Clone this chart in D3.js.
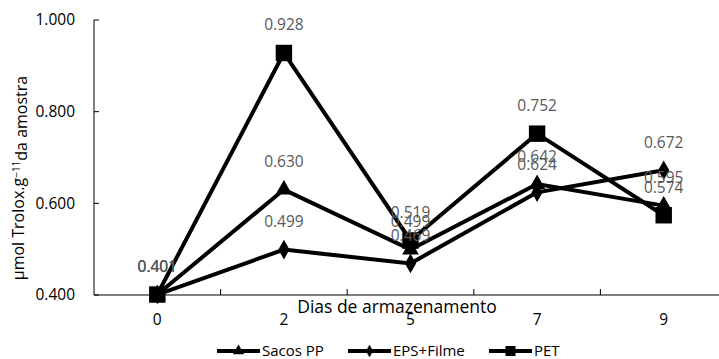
<!DOCTYPE html>
<html lang="en">
<head>
    <meta charset="UTF-8">
    <title>Trolox chart</title>
    <script src="https://d3js.org/d3.v7.min.js"></script>
    <style>
        body { margin: 0; background: #fff; }
        text { font-family: "Open Sans", sans-serif; }
        .tick-label { font-size: 15.5px; fill: #000; }
        .data-label { font-size: 15.5px; fill: #595959; }
        .legend-label { font-size: 15px; fill: #000; }
    </style>
</head>
<body>
    <div id="chart"></div>
    <script>
        // Data
        const days = ["0", "2", "5", "7", "9"];
        const sacosPP = [0.401, 0.630, 0.499, 0.642, 0.595];
        const epsFilme = [0.401, 0.499, 0.469, 0.624, 0.672];
        const pet = [0.401, 0.928, 0.519, 0.752, 0.574];
        const yTicks = [0.400, 0.600, 0.800, 1.000];

        const series = [
            { name: "Sacos PP", values: sacosPP, symbol: d3.symbolTriangle, size: 120, legendSize: 55 },
            { name: "EPS+Filme", values: epsFilme, symbol: d3.symbolDiamond, size: 110, legendSize: 45 },
            { name: "PET", values: pet, symbol: d3.symbolSquare, size: 270, legendSize: 100 }
        ];

        // Dimensions
        const width = 719;
        const height = 359;
        const plotLeft = 94, plotRight = 727, plotTop = 20, plotBottom = 295;

        const svg = d3.select("#chart")
            .append("svg")
            .attr("width", width)
            .attr("height", height);

        const x = d3.scaleBand().domain(days).range([plotLeft, plotRight]).padding(0);
        const y = d3.scaleLinear().domain([0.4, 1.0]).range([plotBottom, plotTop]);
        const cx = d => x(d) + x.bandwidth() / 2;

        // Y axis
        svg.append("line")
            .attr("x1", plotLeft).attr("x2", plotLeft)
            .attr("y1", plotTop).attr("y2", plotBottom)
            .attr("stroke", "#000").attr("stroke-width", 1);

        svg.selectAll(".ytick")
            .data(yTicks)
            .join("line")
            .attr("x1", plotLeft).attr("x2", plotLeft + 5)
            .attr("y1", d => y(d)).attr("y2", d => y(d))
            .attr("stroke", "#000");

        svg.selectAll(".ylabel")
            .data(yTicks)
            .join("text")
            .attr("class", "tick-label")
            .attr("x", plotLeft - 19)
            .attr("y", d => y(d))
            .attr("dy", "0.35em")
            .attr("text-anchor", "end")
            .text(d => d3.format(".3f")(d));

        // X axis
        svg.append("line")
            .attr("x1", plotLeft).attr("x2", plotRight)
            .attr("y1", plotBottom).attr("y2", plotBottom)
            .attr("stroke", "#000").attr("stroke-width", 1);

        svg.selectAll(".xtick")
            .data(days.slice(1))
            .join("line")
            .attr("x1", d => x(d)).attr("x2", d => x(d))
            .attr("y1", plotBottom).attr("y2", plotBottom - 6)
            .attr("stroke", "#000");

        svg.selectAll(".xlabel")
            .data(days)
            .join("text")
            .attr("class", "tick-label")
            .attr("x", d => cx(d))
            .attr("y", plotBottom + 25)
            .attr("dy", "0.35em")
            .attr("text-anchor", "middle")
            .text(d => d);

        // Axis titles
        svg.append("text")
            .attr("x", 397)
            .attr("y", 313)
            .attr("text-anchor", "middle")
            .style("font-size", "17.5px")
            .text("Dias de armazenamento");

        const yTitle = svg.append("text")
            .attr("transform", "translate(24, 178) rotate(-90)")
            .attr("text-anchor", "middle")
            .style("font-size", "16px");
        yTitle.append("tspan").text("µmol Trolox.g");
        yTitle.append("tspan").attr("dy", "-0.45em").style("font-size", "10px").text("−11");
        yTitle.append("tspan").attr("dy", "0.45em").text("da amostra");

        // Lines and markers
        const line = d3.line()
            .x((d, i) => cx(days[i]))
            .y(d => y(d));

        series.forEach(s => {
            svg.append("path")
                .datum(s.values)
                .attr("d", line)
                .attr("fill", "none")
                .attr("stroke", "#000")
                .attr("stroke-width", 4)
                .attr("stroke-linejoin", "miter");

            svg.selectAll(null)
                .data(s.values)
                .join("path")
                .attr("d", d3.symbol().type(s.symbol).size(s.size))
                .attr("transform", (d, i) => `translate(${cx(days[i])}, ${y(d)})`)
                .attr("fill", "#000");
        });

        // Data labels
        series.forEach(s => {
            svg.selectAll(null)
                .data(s.values)
                .join("text")
                .attr("class", "data-label")
                .attr("x", (d, i) => cx(days[i]))
                .attr("y", d => y(d) - 28)
                .attr("dy", "0.35em")
                .attr("text-anchor", "middle")
                .text(d => d3.format(".3f")(d));
        });

        // Legend
        const legendX = [217, 348, 489];
        const legend = svg.selectAll(".legend")
            .data(series)
            .join("g")
            .attr("class", "legend")
            .attr("transform", (d, i) => `translate(${legendX[i]}, 351)`);

        legend.append("line")
            .attr("x1", 0).attr("x2", 43)
            .attr("stroke", "#000").attr("stroke-width", 4);

        legend.append("path")
            .attr("d", d => d3.symbol().type(d.symbol).size(d.legendSize)())
            .attr("transform", "translate(21.5, 0)")
            .attr("fill", "#000");

        legend.append("text")
            .attr("class", "legend-label")
            .attr("x", 45)
            .attr("dy", "0.35em")
            .text(d => d.name);
    </script>
</body>
</html>
